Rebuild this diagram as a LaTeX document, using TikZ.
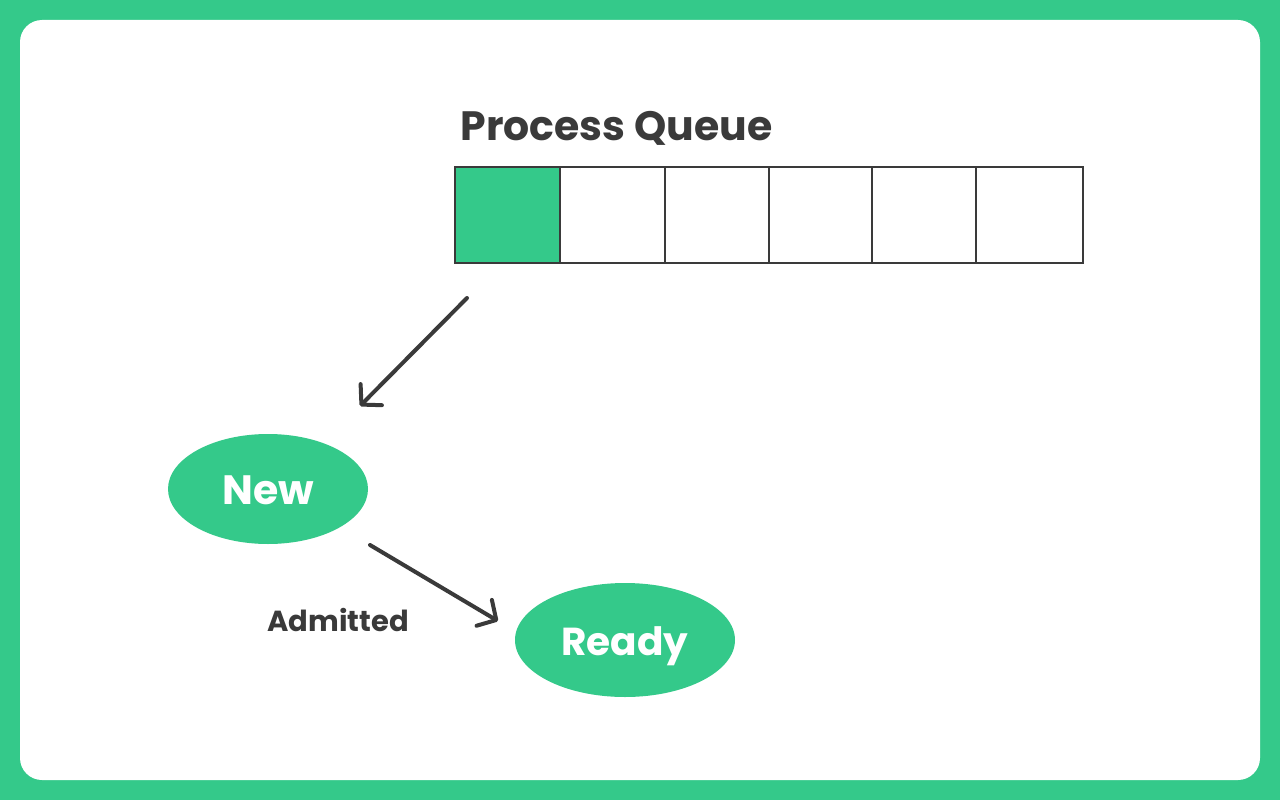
\documentclass[tikz,border=0pt]{standalone}
\usepackage{fontspec}
\setmainfont{Poppins}
\usetikzlibrary{arrows.meta,shapes.geometric}
\definecolor{gfg}{RGB}{52,201,138}
\definecolor{ink}{RGB}{58,58,58}
\begin{document}
\begin{tikzpicture}[x=1pt,y=-1pt,
  cell/.style={draw=ink,line width=2pt,minimum height=96pt,inner sep=0,outer sep=0,anchor=north west},
  state/.style={ellipse,fill=gfg,text=white,inner sep=0,text depth=0pt},
  conn/.style={draw=ink,line width=4pt,line cap=round,-{Straight Barb[length=14pt,width=30pt,line width=4pt,round]}},
  lbl/.style={text=ink,font=\bfseries\fontsize{29}{32}\selectfont}]
\useasboundingbox (0,0) rectangle (1280,800);
\fill[gfg] (0,0) rectangle (1280,800);
\fill[white,rounded corners=22pt] (20,20) rectangle (1260,780);
\node[text=ink,font=\bfseries\fontsize{41}{44}\selectfont,anchor=base west] (title) at (457,140) {Process Queue};
\node[cell,fill=gfg,minimum width=105pt] (c1) at (455,167) {};
\node[cell,minimum width=105pt] (c2) at (c1.north east) {};
\node[cell,minimum width=104pt] (c3) at (c2.north east) {};
\node[cell,minimum width=103pt] (c4) at (c3.north east) {};
\node[cell,minimum width=104pt] (c5) at (c4.north east) {};
\node[cell,minimum width=107pt] (c6) at (c5.north east) {};
\node[state,minimum width=200pt,minimum height=110pt,text height=31pt,font=\bfseries\fontsize{41}{44}\selectfont] (new) at (268,489) {New};
\node[state,minimum width=220pt,minimum height=114pt,text height=30pt,font=\bfseries\fontsize{39}{42}\selectfont] (ready) at (625,640) {Ready};
\coordinate (a1s) at (467,298);
\coordinate (a1e) at (360,406);
\coordinate (a2s) at (370,545);
\coordinate (a2e) at (498,621);
\draw[conn] (a1s) -- (a1e);
\draw[conn] (a2s) -- (a2e);
\node[lbl] (adm) at (338,620) {Admitted};
\end{tikzpicture}
\end{document}
